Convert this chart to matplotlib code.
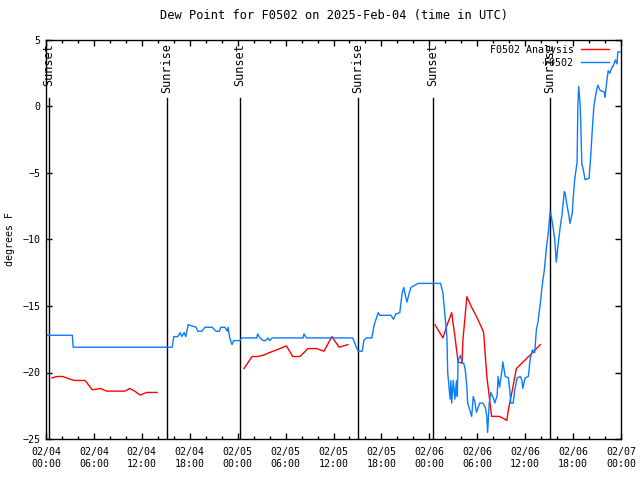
import numpy as np
import pandas as pd
import matplotlib
matplotlib.use("Agg")
import matplotlib.pyplot as plt
import matplotlib.dates as mdates

# hours after 2025-02-04 00:00 UTC
obs_hours = [0.0, 3.3, 3.4, 15.8, 16.0, 16.5, 16.8, 17.0, 17.3, 17.5, 17.8, 18.3, 18.8, 19.0,
             19.5, 19.9, 20.8, 21.3, 21.7, 21.9, 22.4, 22.7, 22.8, 23.0, 23.3, 23.5, 24.3, 24.5,
             26.4, 26.5, 26.8, 27.2, 27.5, 27.8, 28.0, 28.3, 32.2, 32.3, 32.6, 38.4, 38.8, 39.1,
             39.6, 39.8, 40.1, 40.8, 41.1, 41.6, 41.8, 43.2, 43.5, 43.8, 44.3, 44.6, 44.8, 45.0,
             45.2, 45.5, 45.7, 46.6, 48.5, 49.4, 49.7, 50.2, 50.3, 50.6, 50.7, 50.8, 51.0, 51.2,
             51.4, 51.5, 51.6, 51.9, 52.1, 52.3, 52.5, 52.7, 52.8, 53.3, 53.5, 53.7, 53.9, 54.3,
             54.7, 55.0, 55.2, 55.3, 55.5, 55.7, 56.0, 56.2, 56.5, 56.6, 56.8, 57.1, 57.2, 57.5,
             57.9, 58.1, 58.2, 58.5, 58.7, 59.0, 59.4, 59.6, 59.7, 60.0, 60.4, 60.6, 60.9, 61.0,
             61.2, 61.4, 61.6, 61.9, 62.1, 62.4, 62.7, 62.9, 63.1, 63.2, 63.5, 63.7, 63.9, 64.1,
             64.4, 64.6, 64.9, 65.0, 65.2, 65.5, 65.6, 65.9, 66.0, 66.2, 66.5, 66.6, 66.7, 66.9,
             67.1, 67.2, 67.5, 68.0, 68.2, 68.4, 68.6, 68.9, 69.1, 69.4, 69.9, 70.0, 70.2, 70.4,
             70.6, 70.9, 71.0, 71.3, 71.5, 71.6, 71.9]
obs_dewpt = [-17.2, -17.2, -18.1, -18.1, -17.3, -17.3, -17.0, -17.3, -17.0, -17.3, -16.4, -16.5,
             -16.6, -16.9, -16.9, -16.6, -16.6, -16.9, -16.9, -16.6, -16.6, -16.9, -16.6, -17.4,
             -17.9, -17.6, -17.6, -17.4, -17.4, -17.1, -17.4, -17.6, -17.6, -17.4, -17.6, -17.4,
             -17.4, -17.1, -17.4, -17.4, -18.0, -18.4, -18.4, -17.6, -17.4, -17.4, -16.4, -15.5,
             -15.7, -15.7, -16.0, -15.6, -15.5, -14.0, -13.6, -14.2, -14.7, -14.0, -13.6, -13.3,
             -13.3, -13.3, -14.0, -17.3, -20.0, -22.0, -20.6, -22.3, -20.6, -22.0, -20.6, -21.8,
             -19.1, -18.7, -19.3, -19.3, -19.8, -21.1, -22.3, -23.3, -21.8, -22.2, -23.0, -22.3,
             -22.3, -22.6, -23.3, -24.5, -22.3, -21.5, -21.9, -22.3, -21.7, -20.3, -21.1, -19.8,
             -19.2, -20.3, -20.4, -21.5, -22.3, -22.3, -21.3, -20.4, -20.3, -20.6, -21.2, -20.4,
             -20.3, -19.1, -18.3, -18.5, -18.5, -16.8, -16.2, -14.8, -13.6, -12.3, -10.4, -9.5,
             -8.0, -8.0, -9.1, -10.0, -11.7, -10.5, -9.0, -8.2, -6.4, -6.5, -7.3, -8.3, -8.8,
             -8.0, -7.0, -5.5, -4.2, 0.1, 1.5, 0.0, -4.4, -4.5, -5.5, -5.4, -3.8, -1.8, 0.0, 1.1,
             1.6, 1.2, 1.1, 0.7, 1.8, 2.7, 2.5, 3.0, 3.0, 3.5, 3.2, 4.1, 4.1]

ana_hours = [0.75, 1.4, 2.1, 3.0, 3.6, 4.9, 5.8, 6.8, 7.6, 8.4, 9.9, 10.5, 11.1, 11.8, 12.6, 13.9,
             np.nan,
             24.8, 25.8, 26.5, 27.2, 28.0, 28.9, 30.1, 30.9, 31.8, 32.8, 33.9, 34.8, 35.8, 36.7, 37.8,
             np.nan,
             48.7, 49.7, 50.3, 50.8, 51.2, 51.6, 52.1, 52.2, 52.7, 53.3, 54.0, 54.6, 54.8, 55.2,
             55.6, 55.8, 56.8, 57.7, 57.9, 58.4, 58.9, 60.6, 61.9]
ana_dewpt = [-20.4, -20.3, -20.3, -20.5, -20.6, -20.6, -21.3, -21.2, -21.4, -21.4, -21.4, -21.2,
             -21.4, -21.7, -21.5, -21.5,
             np.nan,
             -19.7, -18.8, -18.8, -18.7, -18.5, -18.3, -18.0, -18.8, -18.8, -18.2, -18.2, -18.4,
             -17.3, -18.1, -17.9,
             np.nan,
             -16.4, -17.4, -16.3, -15.5, -17.3, -19.2, -19.3, -17.6, -14.3, -15.1, -15.9, -16.7,
             -17.0, -20.3, -22.3, -23.3, -23.3, -23.6, -22.8, -21.3, -19.7, -18.7, -17.9]

sun_hours = [0.38, 15.15, 24.3, 39.07, 48.46, 63.1]
sun_labels = ["Sunset", "Sunrise", "Sunset", "Sunrise", "Sunset", "Sunrise"]

base = pd.Timestamp("2025-02-04 00:00")


def to_time(hours):
    return base + pd.to_timedelta(np.asarray(hours, dtype=float), unit="h")


plt.rcParams["font.family"] = ["DejaVu Sans Mono", "DejaVu Sans"]
plt.rcParams["font.size"] = 7.2

fig = plt.figure(figsize=(6.4, 4.8), dpi=100)
ax = fig.add_axes([46 / 640, 1 - 439 / 480, 575 / 640, 399 / 480])

for h, lab in zip(sun_hours, sun_labels):
    t = to_time([h])[0]
    ax.axvline(t, ymin=0, ymax=0.855, color="black", lw=1)
    ax.text(t, 4.75, lab, rotation=90, ha="center", va="top", fontsize=8.5)

ax.plot(to_time(ana_hours), ana_dewpt, color="#ff0000", lw=1, label="F0502 Analysis")
ax.plot(to_time(obs_hours), obs_dewpt, color="#0a7cff", lw=1, label="F0502")

ax.set_xlim(base, base + pd.Timedelta(hours=72))
ax.set_ylim(-25, 5)
ax.set_yticks(np.arange(-25, 6, 5))
ax.xaxis.set_major_locator(mdates.HourLocator(byhour=range(0, 24, 6)))
ax.xaxis.set_minor_locator(mdates.HourLocator(byhour=range(0, 24, 2)))
ax.xaxis.set_major_formatter(mdates.DateFormatter("%m/%d\n%H:%M"))
ax.tick_params(which="both", direction="in", top=True, right=True, width=1)
ax.tick_params(which="major", length=4, pad=6)
ax.tick_params(which="minor", length=2.2)
ax.tick_params(axis="y", pad=4)
for s in ax.spines.values():
    s.set_linewidth(1)

ax.set_ylabel("degrees F", va="center")
ax.yaxis.set_label_coords(-36 / 575, 0.5)
ax.set_title("Dew Point for F0502 on 2025-Feb-04 (time in UTC)", pad=15)

ax.legend(loc="upper right", bbox_to_anchor=(1 - 7 / 575, 1), frameon=False,
          markerfirst=False, handlelength=2.8, handletextpad=0.7, labelspacing=0.3,
          borderaxespad=0.3, borderpad=0.2)

fig.savefig("out.png", dpi=100)
